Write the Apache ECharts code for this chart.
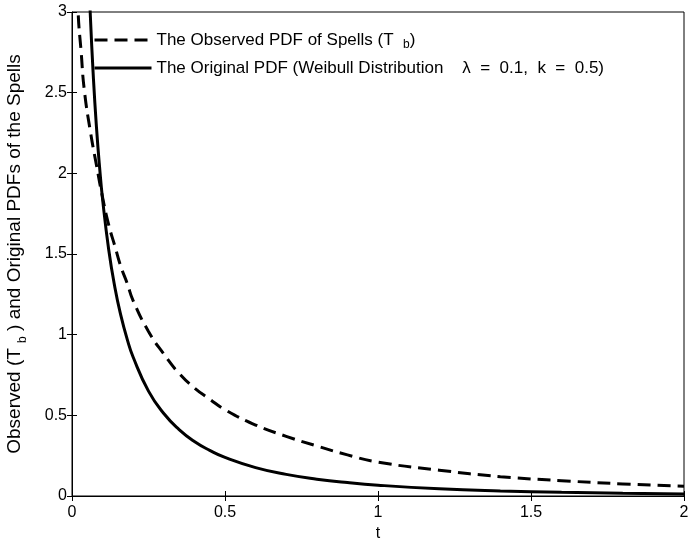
<!DOCTYPE html>
<html><head><meta charset="utf-8">
<script src="https://cdn.jsdelivr.net/npm/echarts@6/dist/echarts.min.js"></script>
<style>html,body{margin:0;padding:0;background:#fff}#c{width:690px;height:542px}</style>
</head><body><div id="c"></div>
<script>
// Data
var tObserved = [0.01,0.02,0.03,0.04,0.06,0.08,0.10,0.12,0.14,0.16,0.18,0.20,0.25,0.30,0.35,0.40,0.45,0.50,0.60,0.70,0.80,0.90,1.0,1.2,1.4,1.6,1.8,2.0];
var observedPDF = [3.6,3.0,2.75,2.52,2.26,2.05,1.85,1.68,1.55,1.42,1.32,1.21,1.02,0.88,0.76,0.67,0.60,0.535,0.44,0.37,0.31,0.255,0.21,0.16,0.12,0.095,0.075,0.06];
var tOriginal = [0.02,0.03,0.04,0.05,0.06,0.07,0.08,0.09,0.10,0.12,0.14,0.16,0.18,0.20,0.25,0.30,0.35,0.40,0.45,0.50,0.60,0.70,0.80,0.90,1.0,1.2,1.4,1.6,1.8,2.0];
var originalPDF = [7.149,5.279,4.200,3.487,2.975,2.589,2.285,2.041,1.839,1.526,1.294,1.116,0.974,0.860,0.650,0.511,0.412,0.338,0.283,0.239,0.176,0.134,0.1045,0.0830,0.0669,0.0452,0.0317,0.0229,0.0169,0.0128];
var xTicks = [0,0.5,1,1.5,2];
var yTicks = [0,0.5,1,1.5,2,2.5,3];
var legendNames = ['The Observed PDF of Spells (T  {sub|b})', 'The Original PDF (Weibull Distribution    \u03bb  =  0.1,  k  =  0.5)'];

function pairs(xs, ys){ return xs.map(function(x,i){return [x, ys[i]];}); }

var FONT = 'Liberation Sans';
var chart = echarts.init(document.getElementById('c'));
var tickCommon = {show:true, inside:true, length:5, lineStyle:{color:'#000', width:1}};
var subStyle = {fontFamily:FONT, fontSize:12, color:'#000', lineHeight:12, verticalAlign:'bottom'};
chart.setOption({
  animation:false,
  textStyle:{fontFamily:FONT},
  grid:{left:72, right:6, top:12, bottom:46, show:true, borderColor:'#000', borderWidth:1,
        containLabel:false, outerBoundsMode:'none'},
  legend:{
    orient:'vertical', left:93, top:29, padding:0, itemWidth:57, itemHeight:14, itemGap:6,
    itemStyle:{opacity:0}, lineStyle:{width:3},
    textStyle:{fontFamily:FONT, fontSize:17, color:'#000', lineHeight:22, padding:[0,0,0,0],
      rich:{sub:subStyle}},
    formatter:function(n){ return n==='obs' ? legendNames[0] : legendNames[1]; },
    data:['obs','orig']
  },
  xAxis:[{
    type:'value', min:0, max:2, interval:0.5,
    name:'t', nameLocation:'middle', nameGap:26,
    nameTextStyle:{fontFamily:FONT, fontSize:16, color:'#000'},
    axisLine:{show:true, lineStyle:{color:'#000', width:1}},
    axisTick:tickCommon, splitLine:{show:false},
    axisLabel:{fontFamily:FONT, fontSize:16, color:'#000', margin:9,
      formatter:function(v){return String(v);}}
  },{
    type:'value', position:'top', min:0, max:2, interval:0.5,
    axisLine:{show:false}, axisTick:tickCommon, axisLabel:{show:false}, splitLine:{show:false}
  }],
  yAxis:[{
    type:'value', min:0, max:3, interval:0.5,
    name:'Observed (T {sub|b} ) and Original PDFs of the Spells',
    nameLocation:'middle', nameGap:43, nameRotate:90,
    nameTextStyle:{fontFamily:FONT, fontSize:19, color:'#000', lineHeight:28,
      rich:{sub:subStyle}},
    axisLine:{show:true, lineStyle:{color:'#000', width:1}},
    axisTick:tickCommon, splitLine:{show:false},
    axisLabel:{fontFamily:FONT, fontSize:16, color:'#000', margin:5,
      formatter:function(v){return String(v);}}
  },{
    type:'value', position:'right', min:0, max:3, interval:0.5,
    axisLine:{show:false}, axisTick:tickCommon, axisLabel:{show:false}, splitLine:{show:false}
  }],
  series:[{
    name:'obs', type:'line', data:pairs(tObserved, observedPDF), smooth:true,
    showSymbol:false, symbol:'none', clip:true,
    lineStyle:{color:'#000', width:3, type:[13,7]}, itemStyle:{color:'#000'}
  },{
    name:'orig', type:'line', data:pairs(tOriginal, originalPDF), smooth:true,
    showSymbol:false, symbol:'none', clip:true,
    lineStyle:{color:'#000', width:3}, itemStyle:{color:'#000'}
  }]
});
</script></body></html>
